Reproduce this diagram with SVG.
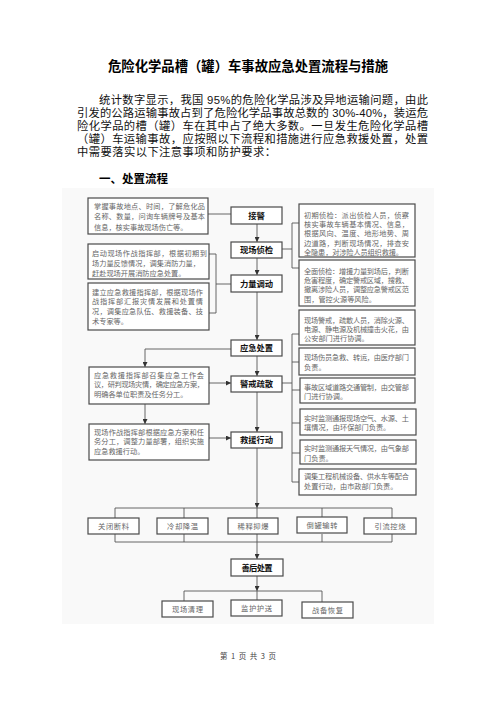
<svg xmlns="http://www.w3.org/2000/svg" width="496" height="702" viewBox="0 0 496 702">
<defs>
<marker id="ah" markerUnits="userSpaceOnUse" markerWidth="5" markerHeight="5" refX="5" refY="2.5" orient="auto">
<path d="M0,0 L5,2.5 L0,5 z" fill="#333"/>
</marker>
<style>
.cn{font-family:"Noto Sans CJK SC","Noto Sans",sans-serif;}
.pf{font-family:"Liberation Sans","Noto Sans CJK SC",sans-serif;}
.title{font-size:13.5px;font-weight:bold;fill:#000;}
.para{font-size:11.3px;fill:#111;}
.head{font-size:11.5px;font-weight:bold;fill:#000;}
.box{fill:#fff;stroke:#4a4a4a;stroke-width:1.2;}
.bt{font-size:7.2px;fill:#666;}
.lbl{font-size:8.3px;font-weight:bold;fill:#111;text-anchor:middle;}
.sl{font-size:7.3px;fill:#666;text-anchor:middle;}
.ln{fill:none;stroke:#555;stroke-width:0.9;}
.ar{fill:none;stroke:#555;stroke-width:0.9;marker-end:url(#ah);}
.foot{font-size:7.5px;fill:#444;text-anchor:middle;}
</style>
</defs>
<rect width="496" height="702" fill="#fff"/>

<text class="cn title" x="108" y="71" textLength="280" lengthAdjust="spacingAndGlyphs">危险化学品槽（罐）车事故应急处置流程与措施</text>
<g class="pf para">
<text x="99" y="104" textLength="329" lengthAdjust="spacing">统计数字显示，我国 95%的危险化学品涉及异地运输问题，由此</text>
<text x="77" y="117" textLength="351" lengthAdjust="spacing">引发的公路运输事故占到了危险化学品事故总数的 30%-40%，装运危</text>
<text x="77" y="130" textLength="351" lengthAdjust="spacing">险化学品的槽（罐）车在其中占了绝大多数。一旦发生危险化学品槽</text>
<text x="77" y="143" textLength="351" lengthAdjust="spacing">（罐）车运输事故，应按照以下流程和措施进行应急救援处置，处置</text>
<text x="77" y="156" textLength="199" lengthAdjust="spacing">中需要落实以下注意事项和防护要求：</text>
</g>
<text class="cn head" x="99" y="183">一、处置流程</text>

<rect x="62" y="188" width="372" height="436" fill="#f9f9f9"/>

<g id="connectors">
<path class="ln" d="M208,214 H231"/>
<path class="ar" d="M257,224 V242"/>
<path class="ar" d="M257,258 V275"/>
<path class="ar" d="M257,292 V340"/>
<path class="ar" d="M257,356 V376"/>
<path class="ar" d="M257,392 V432"/>
<path class="ar" d="M257,448 V508"/>
<path class="ln" d="M209,254 H216 V313 H209 M216,284 H231"/>
<path class="ln" d="M282,249 H292 M299,223 H292 V268 H299"/>
<path class="ar" d="M231,349 H145 V367"/>
<path class="ar" d="M209,383 H231"/>
<path class="ar" d="M145,404 V424"/>
<path class="ar" d="M209,438 H231"/>
<path class="ln" d="M282,383 H292 M299,334 H292 V482 H299 M292,362 H299 M292,390 H300 M292,423 H300 M292,453 H300"/>
<path class="ln" d="M115,518 V508 H392 V518 M184,508 V518 M322,508 V518 M257,508 V518"/>
<path class="ln" d="M115,534 V542 H392 V534 M184,534 V542 M322,534 V542"/>
<path class="ar" d="M257,534 V559"/>
<path class="ar" d="M257,576 V591"/>
<path class="ln" d="M184,601 V591 H322 V602 M257,591 V600"/>
</g>

<g id="n-jiejing"><rect class="box" x="231" y="207" width="51" height="17"/><text class="cn lbl" x="256.5" y="218.8">接警</text></g>
<g id="n-zhenjian"><rect class="box" x="231" y="242" width="51" height="16"/><text class="cn lbl" x="256.5" y="253">现场侦检</text></g>
<g id="n-tiaodong"><rect class="box" x="231" y="275" width="51" height="17"/><text class="cn lbl" x="256.5" y="286.6">力量调动</text></g>
<g id="n-chuzhi"><rect class="box" x="231" y="340" width="51" height="16"/><text class="cn lbl" x="256.5" y="351">应急处置</text></g>
<g id="n-jingjie"><rect class="box" x="231" y="376" width="51" height="16"/><text class="cn lbl" x="256.5" y="387">警戒疏散</text></g>
<g id="n-jiuyuan"><rect class="box" x="231" y="432" width="51" height="16"/><text class="cn lbl" x="256.5" y="443">救援行动</text></g>

<g id="n-l1" class="cn bt"><rect class="box" x="88" y="198" width="120" height="36"/>
<text x="94" y="208.8" textLength="111" lengthAdjust="spacing">掌握事故地点、时间，了解危化品</text>
<text x="94" y="219.3" textLength="111" lengthAdjust="spacing">名称、数量，问询车辆牌号及基本</text>
<text x="94" y="229.8">信息，核实事故现场伤亡等。</text></g>

<g id="n-l2" class="cn bt"><rect class="box" x="88" y="244" width="121" height="35"/>
<text x="92" y="255.5" textLength="115" lengthAdjust="spacing">启动现场作战指挥部，根据初期到</text>
<text x="92" y="265.5" textLength="108" lengthAdjust="spacing">场力量反馈情况，调集消防力量，</text>
<text x="92" y="275.5">赶赴现场开展消防应急处置。</text></g>

<g id="n-l3" class="cn bt"><rect class="box" x="88" y="283" width="121" height="47"/>
<text x="92" y="294.5" textLength="111" lengthAdjust="spacing">建立应急救援指挥部，根据现场作</text>
<text x="92" y="304.3" textLength="111" lengthAdjust="spacing">战指挥部汇报灾情发展和处置情</text>
<text x="92" y="314" textLength="111" lengthAdjust="spacing">况，调集应急队伍、救援装备、技</text>
<text x="92" y="323.7">术专家等。</text></g>

<g id="n-l4" class="cn bt"><rect class="box" x="89" y="367" width="120" height="37"/>
<text x="94" y="377.7" textLength="110" lengthAdjust="spacing">应急救援指挥部召集应急工作会</text>
<text x="94" y="387.4" textLength="110" lengthAdjust="spacing">议，研判现场灾情，确定应急方案，</text>
<text x="94" y="397">明确各单位职责及任务分工。</text></g>

<g id="n-l5" class="cn bt"><rect class="box" x="89" y="424" width="120" height="36"/>
<text x="94" y="434.7" textLength="110" lengthAdjust="spacing">现场作战指挥部根据应急方案和任</text>
<text x="94" y="444" textLength="110" lengthAdjust="spacing">务分工，调整力量部署，组织实施</text>
<text x="94" y="453.5">应急救援行动。</text></g>

<g id="n-r1" class="cn bt"><rect class="box" x="299" y="204" width="116" height="53"/>
<text x="304" y="217.5" textLength="105" lengthAdjust="spacing">初期侦检：派出侦检人员，侦察</text>
<text x="304" y="226.8" textLength="105" lengthAdjust="spacing">核实事故车辆基本情况、信息，</text>
<text x="304" y="236.4" textLength="105" lengthAdjust="spacing">根据风向、温度、地形地势、周</text>
<text x="304" y="245.8" textLength="105" lengthAdjust="spacing">边道路，判断现场情况，排查安</text>
<text x="304" y="255.3" textLength="99" lengthAdjust="spacing">全隐患，对涉险人员组织救援。</text></g>

<g id="n-r2" class="cn bt"><rect class="box" x="299" y="260" width="116" height="46"/>
<text x="304" y="273.5" textLength="105" lengthAdjust="spacing">全面侦检：增援力量到场后，判断</text>
<text x="304" y="282.8" textLength="105" lengthAdjust="spacing">危害程度，确定警戒区域，搜救、</text>
<text x="304" y="292" textLength="105" lengthAdjust="spacing">撤离涉险人员，调整应急警戒区范</text>
<text x="304" y="301.5">围，管控火源等风险。</text></g>

<g id="n-r3" class="cn bt"><rect class="box" x="299" y="310" width="116" height="35"/>
<text x="304" y="322.5" textLength="105" lengthAdjust="spacing">现场警戒，疏散人员，消除火源、</text>
<text x="304" y="331.6" textLength="105" lengthAdjust="spacing">电源、静电源及机械撞击火花，由</text>
<text x="304" y="340.6">公安部门进行协调。</text></g>

<g id="n-r4" class="cn bt"><rect class="box" x="299" y="348" width="116" height="27"/>
<text x="304" y="359.5" textLength="105" lengthAdjust="spacing">现场伤员急救、转运，由医疗部门</text>
<text x="304" y="369.5">负责。</text></g>

<g id="n-r5" class="cn bt"><rect class="box" x="300" y="378" width="115" height="25"/>
<text x="304" y="389.5" textLength="105" lengthAdjust="spacing">事故区域道路交通管制，由交管部</text>
<text x="304" y="398.5">门进行协调。</text></g>

<g id="n-r6" class="cn bt"><rect class="box" x="300" y="409" width="116" height="26"/>
<text x="304" y="420.5" textLength="105" lengthAdjust="spacing">实时监测通报现场空气、水源、土</text>
<text x="304" y="429.8">壤情况，由环保部门负责。</text></g>

<g id="n-r7" class="cn bt"><rect class="box" x="300" y="440" width="116" height="24"/>
<text x="304" y="450.8" textLength="105" lengthAdjust="spacing">实时监测通报天气情况，由气象部</text>
<text x="304" y="460.5">门负责。</text></g>

<g id="n-r8" class="cn bt"><rect class="box" x="299" y="469" width="117" height="26"/>
<text x="304" y="478.5" textLength="105" lengthAdjust="spacing">调集工程机械设备、供水车等配合</text>
<text x="304" y="489.3">处置行动，由市政部门负责。</text></g>

<g id="n-b1"><rect class="box" x="88" y="518" width="51" height="16"/><text class="cn sl" x="113.5" y="528.5" textLength="31" lengthAdjust="spacing">关闭断料</text></g>
<g id="n-b2"><rect class="box" x="157" y="518" width="51" height="16"/><text class="cn sl" x="182.5" y="528.5" textLength="31" lengthAdjust="spacing">冷却降温</text></g>
<g id="n-b3"><rect class="box" x="228" y="518" width="50" height="16"/><text class="cn sl" x="253" y="528.5" textLength="31" lengthAdjust="spacing">稀释抑爆</text></g>
<g id="n-b4"><rect class="box" x="297" y="517" width="50" height="16"/><text class="cn sl" x="322" y="527.5" textLength="31" lengthAdjust="spacing">倒罐输转</text></g>
<g id="n-b5"><rect class="box" x="364" y="518" width="52" height="16"/><text class="cn sl" x="390" y="528.5" textLength="31" lengthAdjust="spacing">引流控烧</text></g>

<g id="n-shanhou"><rect class="box" x="231" y="559" width="52" height="17"/><text class="cn lbl" x="257" y="570.6" textLength="31" lengthAdjust="spacing">善后处置</text></g>

<g id="n-c1"><rect class="box" x="162" y="601" width="51" height="16"/><text class="cn sl" x="187.5" y="611.5" textLength="31" lengthAdjust="spacing">现场清理</text></g>
<g id="n-c2"><rect class="box" x="231" y="600" width="51" height="16"/><text class="cn sl" x="256.5" y="610.5" textLength="31" lengthAdjust="spacing">监护护送</text></g>
<g id="n-c3"><rect class="box" x="302" y="602" width="51" height="16"/><text class="cn sl" x="327.5" y="612.5" textLength="31" lengthAdjust="spacing">战备恢复</text></g>

<text class="cn foot" x="248" y="658.5" textLength="56" lengthAdjust="spacing">第 1 页 共 3 页</text>
</svg>
